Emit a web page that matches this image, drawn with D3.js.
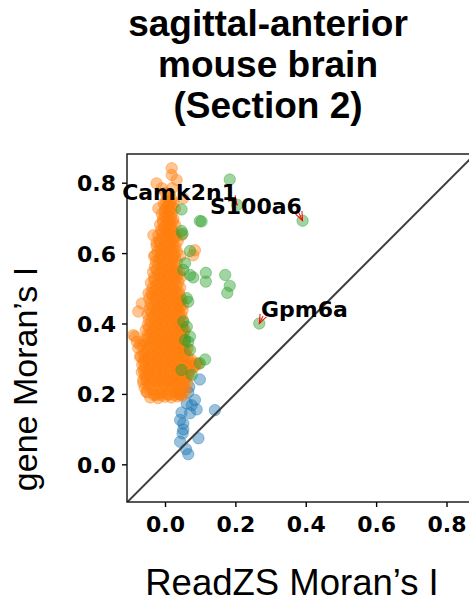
<!DOCTYPE html>
<html>
<head>
<meta charset="utf-8">
<script src="https://cdn.jsdelivr.net/npm/d3@7/dist/d3.min.js"></script>
<style>
  html, body { margin: 0; padding: 0; background: #fff; }
  svg { display: block; }
</style>
</head>
<body>
<svg id="chart" width="469" height="602"></svg>
<script>
// Title lines
const titleLines = ["sagittal-anterior", "mouse brain", "(Section 2)"];
const xLabel = "ReadZS Moran\u2019s I";
const yLabel = "gene Moran\u2019s I";

// Tick values for both axes
const xTicks = [0.0, 0.2, 0.4, 0.6, 0.8];
const yTicks = [0.0, 0.2, 0.4, 0.6, 0.8];
const axisDomain = [-0.108, 0.881];

// [ReadZS Moran's I, gene Moran's I]
// genes where ReadZS signal is close to gene signal
const blueGenes = [
  [0.099,0.241],[0.069,0.220],[0.066,0.205],[0.041,0.200],[0.085,0.183],[0.062,0.173],
  [0.076,0.168],[0.090,0.156],[0.071,0.145],[0.142,0.154],[0.047,0.147],[0.043,0.126],
  [0.052,0.116],[0.052,0.099],[0.050,0.088],[0.095,0.074],[0.043,0.064],[0.060,0.043],
  [0.066,0.029]
];

// genes with spatial gene signal and no ReadZS signal
const orangeGenes = [
  [-0.042,0.19],[-0.02,0.188],[0.0,0.192],[0.018,0.19],[0.036,0.193],[0.05,0.195],
  [-0.031,0.197],[-0.01,0.196],[0.009,0.198],[0.027,0.197],[0.043,0.198],
  [-0.052,0.205],[-0.03,0.2],[-0.011,0.203],[0.01,0.199],[0.028,0.204],[0.045,0.2],[0.058,0.207],
  [-0.058,0.218],[-0.036,0.214],[-0.016,0.217],[0.004,0.213],[0.022,0.218],[0.04,0.215],[0.056,0.219],
  [-0.047,0.223],[-0.026,0.222],[-0.006,0.224],[0.013,0.222],[0.031,0.224],[0.048,0.223],
  [-0.062,0.232],[-0.043,0.229],[-0.022,0.233],[-0.002,0.228],[0.015,0.232],[0.031,0.229],[0.049,0.234],[0.064,0.23],
  [-0.052,0.238],[-0.032,0.237],[-0.012,0.239],[0.007,0.236],[0.023,0.239],[0.04,0.237],[0.057,0.239],
  [-0.053,0.247],[-0.031,0.244],[-0.01,0.248],[0.009,0.243],[0.026,0.247],[0.044,0.245],[0.06,0.248],
  [-0.057,0.253],[-0.041,0.252],[-0.02,0.254],[0.0,0.251],[0.018,0.254],[0.035,0.252],[0.052,0.254],[0.066,0.252],
  [-0.066,0.262],[-0.046,0.258],[-0.026,0.261],[-0.006,0.259],[0.014,0.263],[0.034,0.258],[0.051,0.262],[0.068,0.26],
  [-0.061,0.268],[-0.047,0.266],[-0.026,0.269],[-0.006,0.266],[0.012,0.269],[0.031,0.267],[0.05,0.269],[0.07,0.267],
  [-0.057,0.276],[-0.036,0.273],[-0.016,0.277],[0.004,0.274],[0.021,0.278],[0.041,0.273],[0.059,0.277],[0.082,0.276],
  [-0.065,0.283],[-0.046,0.281],[-0.026,0.284],[-0.006,0.281],[0.011,0.284],[0.028,0.282],[0.047,0.284],[0.066,0.282],[0.085,0.281],
  [-0.061,0.291],[-0.041,0.288],[-0.021,0.292],[-0.001,0.289],[0.019,0.293],[0.036,0.288],[0.054,0.291],[0.073,0.29],[0.09,0.287],
  [-0.058,0.298],[-0.039,0.296],[-0.019,0.299],[0.001,0.296],[0.02,0.299],[0.039,0.297],[0.057,0.299],[0.075,0.297],
  [-0.068,0.306],[-0.049,0.303],[-0.029,0.307],[-0.009,0.304],[0.011,0.306],[0.029,0.303],[0.048,0.307],[0.064,0.305],
  [-0.06,0.313],[-0.04,0.311],[-0.02,0.314],[0.0,0.311],[0.02,0.314],[0.038,0.312],[0.056,0.314],
  [-0.056,0.321],[-0.036,0.318],[-0.016,0.322],[0.004,0.319],[0.024,0.322],[0.041,0.318],[0.058,0.321],
  [-0.048,0.328],[-0.027,0.326],[-0.007,0.329],[0.013,0.326],[0.032,0.329],[0.05,0.327],[0.064,0.329],
  [-0.064,0.336],[-0.045,0.333],[-0.025,0.337],[-0.005,0.334],[0.015,0.337],[0.034,0.333],[0.053,0.336],
  [-0.054,0.343],[-0.035,0.341],[-0.015,0.344],[0.005,0.341],[0.024,0.344],[0.043,0.342],
  [-0.059,0.351],[-0.039,0.348],[-0.019,0.352],[0.001,0.349],[0.021,0.352],[0.039,0.348],[0.056,0.351],
  [-0.049,0.358],[-0.029,0.356],[-0.009,0.359],[0.011,0.356],[0.03,0.359],[0.048,0.357],
  [-0.051,0.366],[-0.031,0.363],[-0.011,0.367],[0.009,0.364],[0.029,0.367],[0.048,0.363],
  [-0.041,0.373],[-0.021,0.371],[-0.001,0.374],[0.019,0.371],[0.038,0.374],[0.053,0.372],
  [-0.055,0.381],[-0.035,0.378],[-0.015,0.382],[0.005,0.379],[0.025,0.382],[0.043,0.378],[0.056,0.381],
  [-0.045,0.388],[-0.025,0.386],[-0.005,0.389],[0.015,0.386],[0.034,0.389],[0.05,0.387],
  [-0.049,0.396],[-0.029,0.393],[-0.009,0.397],[0.011,0.394],[0.031,0.397],[0.049,0.393],
  [-0.039,0.403],[-0.019,0.401],[0.001,0.404],[0.021,0.401],[0.04,0.404],
  [-0.046,0.411],[-0.026,0.408],[-0.006,0.412],[0.014,0.409],[0.034,0.412],[0.051,0.409],
  [-0.036,0.418],[-0.016,0.416],[0.004,0.419],[0.024,0.416],[0.042,0.419],
  [-0.05,0.426],[-0.03,0.423],[-0.01,0.427],[0.01,0.424],[0.03,0.427],[0.047,0.423],
  [-0.04,0.433],[-0.02,0.431],[0.0,0.434],[0.02,0.431],[0.039,0.434],
  [-0.044,0.441],[-0.024,0.438],[-0.004,0.442],[0.016,0.439],[0.035,0.442],[0.05,0.438],
  [-0.034,0.448],[-0.014,0.446],[0.006,0.449],[0.026,0.446],[0.043,0.449],
  [-0.041,0.456],[-0.021,0.453],[-0.001,0.457],[0.019,0.454],[0.038,0.457],[0.051,0.453],
  [-0.031,0.463],[-0.011,0.461],[0.009,0.464],[0.028,0.461],[0.044,0.464],
  [-0.045,0.471],[-0.025,0.468],[-0.005,0.472],[0.015,0.469],[0.034,0.472],[0.048,0.468],
  [-0.035,0.478],[-0.015,0.476],[0.005,0.479],[0.025,0.476],[0.042,0.479],
  [-0.039,0.486],[-0.019,0.483],[0.001,0.487],[0.021,0.484],[0.04,0.487],
  [-0.029,0.493],[-0.009,0.491],[0.011,0.494],[0.031,0.491],
  [-0.036,0.501],[-0.016,0.498],[0.004,0.502],[0.024,0.499],[0.043,0.502],
  [-0.026,0.508],[-0.006,0.506],[0.014,0.509],[0.033,0.506],
  [-0.04,0.516],[-0.02,0.513],[0.0,0.517],[0.02,0.514],[0.038,0.517],
  [-0.03,0.523],[-0.01,0.521],[0.01,0.524],[0.029,0.521],
  [-0.031,0.531],[-0.011,0.528],[0.009,0.532],[0.029,0.529],[0.045,0.532],
  [-0.021,0.538],[-0.001,0.536],[0.019,0.539],[0.036,0.536],
  [-0.034,0.546],[-0.014,0.543],[0.006,0.547],[0.025,0.544],[0.04,0.547],
  [-0.024,0.553],[-0.004,0.551],[0.016,0.554],[0.033,0.551],
  [-0.029,0.561],[-0.009,0.558],[0.011,0.562],[0.03,0.559],
  [-0.019,0.568],[0.001,0.566],[0.021,0.569],
  [-0.026,0.576],[-0.006,0.573],[0.014,0.577],[0.034,0.574],
  [-0.016,0.583],[0.004,0.581],[0.024,0.584],
  [-0.031,0.591],[-0.011,0.588],[0.009,0.592],[0.028,0.589],[0.044,0.592],
  [-0.011,0.598],[0.009,0.596],[0.026,0.599],
  [-0.021,0.606],[-0.001,0.603],[0.018,0.607],[0.034,0.604],
  [-0.011,0.613],[0.009,0.611],[0.025,0.614],
  [-0.024,0.621],[-0.004,0.618],[0.014,0.622],[0.03,0.619],
  [-0.014,0.628],[0.005,0.626],[0.022,0.629],
  [-0.016,0.636],[0.004,0.633],[0.02,0.637],[0.036,0.634],
  [-0.006,0.643],[0.011,0.641],[0.027,0.644],
  [-0.019,0.651],[0.001,0.648],[0.016,0.652],[0.031,0.649],
  [-0.009,0.658],[0.009,0.656],[0.024,0.659],
  [-0.011,0.666],[0.006,0.663],[0.021,0.667],
  [-0.003,0.673],[0.013,0.671],
  [-0.014,0.681],[0.001,0.678],[0.016,0.682],[0.029,0.679],
  [-0.006,0.688],[0.008,0.686],[0.022,0.689],
  [-0.006,0.696],[0.009,0.693],[0.024,0.697],
  [0.001,0.703],[0.016,0.701],
  [-0.009,0.711],[0.006,0.708],[0.019,0.712],
  [-0.002,0.718],[0.012,0.716],
  [0.001,0.726],[0.014,0.723],[0.028,0.727],
  [0.006,0.733],[0.019,0.731],
  [-0.004,0.741],[0.011,0.738],[0.024,0.742],
  [0.003,0.748],[0.016,0.746],
  [0.006,0.756],[0.018,0.753],
  [0.001,0.771],[0.014,0.768],
  [0.019,0.841],[0.033,0.808],[0.019,0.822],[-0.024,0.798],[-0.009,0.784],[0.02,0.784],
  [-0.019,0.727],[0.052,0.756],[-0.033,0.651],[0.047,0.651],[-0.024,0.63],[0.085,0.608],
  [0.08,0.594],[-0.028,0.594],[-0.047,0.486],[-0.066,0.457],[-0.076,0.434],[-0.09,0.367],
  [-0.08,0.348],[-0.076,0.33],[-0.071,0.306],[-0.085,0.363],[-0.071,0.339],[-0.062,0.24],
  [-0.052,0.206],[-0.024,0.197],[0.033,0.206],[0.095,0.285]
];

// genes with a ReadZS signal
const greenGenes = [
  [0.184,0.809],[0.047,0.724],[0.099,0.691],[0.104,0.690],[0.047,0.663],[0.050,0.655],
  [0.071,0.606],[0.057,0.571],[0.052,0.552],[0.071,0.538],[0.080,0.531],[0.116,0.544],
  [0.116,0.519],[0.171,0.538],[0.184,0.507],[0.177,0.487],[0.062,0.472],[0.066,0.462],
  [0.052,0.405],[0.062,0.391],[0.071,0.363],[0.057,0.353],[0.066,0.348],[0.071,0.325],
  [0.114,0.298],[0.099,0.287],[0.047,0.268],[0.076,0.254],
  [0.205,0.737],[0.391,0.692],[0.268,0.400]
];

// Named genes
const labelNames = ["Camk2n1", "S100a6", "Gpm6a"];
const labelValues = [[0.205,0.737],[0.391,0.692],[0.268,0.400]];

const colors = { blue: "#1f77b4", orange: "#ff7f0e", green: "#2ca02c" };

const svg = d3.select("#chart");
const plot = { left: 127, top: 154, size: 348 };

const x = d3.scaleLinear().domain(axisDomain).range([plot.left, plot.left + plot.size]);
const y = d3.scaleLinear().domain([-0.107, 0.8815]).range([plot.top + plot.size, plot.top]);

svg.append("defs").append("clipPath").attr("id", "plotClip")
  .append("rect")
  .attr("x", plot.left).attr("y", plot.top)
  .attr("width", plot.size).attr("height", plot.size);

const tickFont = "'DejaVu Sans', sans-serif";

// Axes
const xAxis = svg.append("g")
  .attr("transform", `translate(0,${plot.top + plot.size})`)
  .call(d3.axisBottom(x).tickValues(xTicks).tickFormat(d3.format(".1f")).tickSize(5).tickSizeOuter(0));
const yAxis = svg.append("g")
  .attr("transform", `translate(${plot.left},0)`)
  .call(d3.axisLeft(y).tickValues(yTicks).tickFormat(d3.format(".1f")).tickSize(5).tickSizeOuter(0));

[xAxis, yAxis].forEach(g => {
  g.select(".domain").remove();
  g.selectAll(".tick line").attr("stroke", "#000").attr("stroke-width", 1.4);
  g.selectAll(".tick text")
    .attr("fill", "#000")
    .style("font-family", tickFont)
    .style("font-weight", "bold")
    .style("font-size", "22px");
});
xAxis.selectAll(".tick text").attr("dy", null).attr("y", 30);
yAxis.selectAll(".tick text").attr("x", -11).attr("dy", "0.36em");

// Points
const pts = svg.append("g").attr("clip-path", "url(#plotClip)");
function drawPoints(data, color) {
  pts.append("g").selectAll("circle")
    .data(data)
    .join("circle")
    .attr("cx", d => x(d[0]))
    .attr("cy", d => y(d[1]))
    .attr("r", 5.7)
    .attr("fill", color)
    .attr("fill-opacity", 0.45)
    .attr("stroke", color)
    .attr("stroke-opacity", 0.4)
    .attr("stroke-width", 1);
}
drawPoints(blueGenes, colors.blue);
drawPoints(orangeGenes, colors.orange);
drawPoints(greenGenes, colors.green);

// Identity line
pts.append("line")
  .attr("x1", x(axisDomain[0])).attr("y1", y(axisDomain[0]))
  .attr("x2", x(1)).attr("y2", y(1))
  .attr("stroke", "#3d3d3d")
  .attr("stroke-width", 2);

// Frame
svg.append("rect")
  .attr("x", plot.left).attr("y", plot.top)
  .attr("width", plot.size).attr("height", plot.size)
  .attr("fill", "none")
  .attr("stroke", "#111")
  .attr("stroke-width", 1.4);

// Gene annotations with red arrows
const labelOffsets = [
  { text: [-115, -5], tail: [-4, -6] },
  { text: [-92.6, -6.7], tail: [-4.6, -9.7] },
  { text: [1.7, -6.8], tail: [3.7, -7.5] }
];
svg.append("defs").append("marker")
  .attr("id", "head")
  .attr("viewBox", "-10 -6 12 12")
  .attr("refX", 0).attr("refY", 0)
  .attr("markerWidth", 12).attr("markerHeight", 12)
  .attr("markerUnits", "userSpaceOnUse")
  .attr("orient", "auto")
  .append("path")
  .attr("d", "M-9,-3.5 L0,0 L-9,3.5")
  .attr("fill", "none")
  .attr("stroke", "red")
  .attr("stroke-width", 1);

const ann = svg.append("g");
labelValues.forEach((v, i) => {
  const px = x(v[0]), py = y(v[1]);
  const o = labelOffsets[i];
  ann.append("line")
    .attr("x1", px + o.tail[0]).attr("y1", py + o.tail[1])
    .attr("x2", px).attr("y2", py)
    .attr("stroke", "red")
    .attr("stroke-width", 1)
    .attr("marker-end", "url(#head)");
  ann.append("text")
    .attr("x", px + o.text[0]).attr("y", py + o.text[1])
    .attr("fill", "#000")
    .style("font-family", tickFont)
    .style("font-weight", "bold")
    .style("font-size", "22px")
    .text(labelNames[i]);
});

// Title
const labelFont = "'Liberation Sans', Arial, sans-serif";
svg.append("g").selectAll("text")
  .data(titleLines)
  .join("text")
  .attr("x", 268)
  .attr("y", (d, i) => 36 + i * 41)
  .attr("text-anchor", "middle")
  .attr("fill", "#000")
  .style("font-family", labelFont)
  .style("font-weight", "bold")
  .style("font-size", "37px")
  .text(d => d);

// Axis titles
svg.append("text")
  .attr("x", 292).attr("y", 595)
  .attr("text-anchor", "middle")
  .attr("fill", "#000")
  .style("font-family", labelFont)
  .style("font-size", "36.5px")
  .text(xLabel);

svg.append("text")
  .attr("transform", "translate(37,379) rotate(-90)")
  .attr("text-anchor", "middle")
  .attr("fill", "#000")
  .style("font-family", labelFont)
  .style("font-size", "34px")
  .text(yLabel);
</script>
</body>
</html>
